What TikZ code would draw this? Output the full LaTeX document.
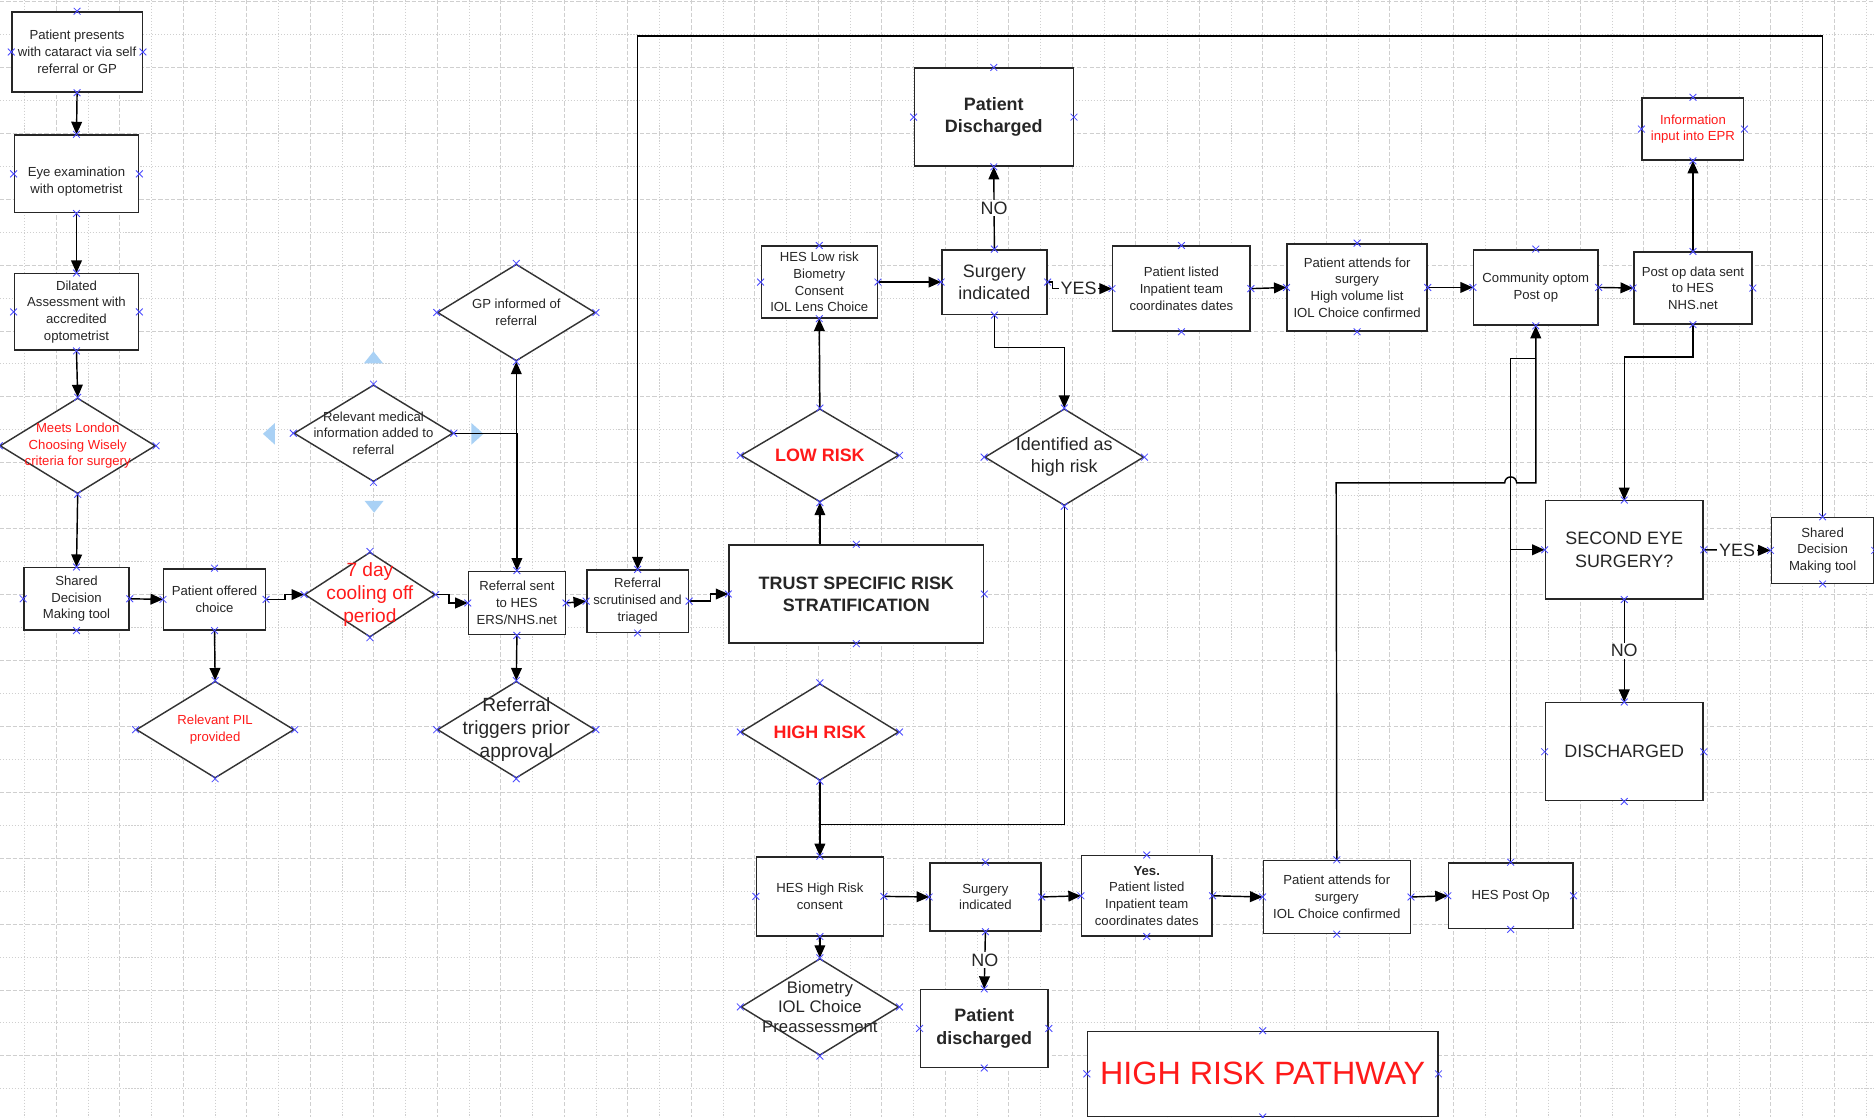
\documentclass[tikz,border=0pt]{standalone}
\usepackage{fontspec}
\setmainfont{Liberation Sans}
\usetikzlibrary{shapes.geometric,shapes.misc,arrows.meta,calc}
\definecolor{gridc}{HTML}{CFCFCF}
\definecolor{txt}{HTML}{262626}
\definecolor{redt}{HTML}{FF1A1A}
\definecolor{xblue}{HTML}{4A4AFF}
\definecolor{handle}{HTML}{A9D1F5}
\newcommand\fsA{\fontsize{11pt}{14pt}\selectfont}
\newcommand\fsB{\fontsize{15pt}{18.5pt}\selectfont}
\newcommand\fsC{\fontsize{16pt}{19pt}\selectfont}
\newcommand\fsD{\fontsize{14pt}{16pt}\selectfont}
\tikzset{
  majgrid/.style={draw=gridc, line width=0.8pt, dash pattern=on 3.5pt off 1.8pt},
  mingrid/.style={draw=gridc, line width=0.8pt, dash pattern=on 0.9pt off 1.6pt},
  box/.style={draw=black!85, line width=1.2pt, fill=white, rectangle, align=center, inner sep=1pt, text=txt, font=\fsA},
  dia/.style={draw=black!80, line width=1.2pt, fill=white, diamond, inner sep=0pt},
  dlab/.style={align=center, text=txt, font=\fsA, inner sep=0pt},
  arr/.style={-{Triangle[length=10.5pt,width=9pt]}, line width=1.2pt, draw=black},
  ln/.style={line width=1.2pt, draw=black},
  lbl/.style={fill=white, text=txt, font=\fsB, inner sep=1.5pt},
  xmark/.style={cross out, draw=xblue, minimum size=5pt, inner sep=0pt, line width=0.7pt}
}
\begin{document}
\begin{tikzpicture}[x=1pt,y=-1pt]
\useasboundingbox (0,0) rectangle (1568,935);
\fill[white] (0,0) rectangle (1568,935);
% grid
\foreach \k in {0,...,58} {
  \pgfmathsetmacro\xx{20.58+26.565*\k}
  \ifodd\k \draw[majgrid] (\xx,0) -- (\xx,935); \else \draw[mingrid] (\xx,0) -- (\xx,935); \fi
}
\foreach \k in {0,...,33} {
  \pgfmathsetmacro\yy{1.25+27.57*\k}
  \ifodd\k \draw[mingrid] (0,\yy) -- (1568,\yy); \else \draw[majgrid] (0,\yy) -- (1568,\yy); \fi
}
% selection handles around the medical-information diamond
\fill[handle] (312.5,294) -- (304.5,304) -- (320.5,304) -- cycle;
\fill[handle] (220,363) -- (230,354) -- (230,372) -- cycle;
\fill[handle] (404.5,363) -- (394.5,354) -- (394.5,372) -- cycle;
\fill[handle] (313,429) -- (305,419) -- (321,419) -- cycle;

% ---------- nodes ----------
\node[box, minimum width=109pt, minimum height=67pt] (n1) at (64.5,43.5) {Patient presents\\with cataract via self\\referral or GP};
\node[box, minimum width=104pt, minimum height=65pt, label={[dlab,yshift=-6.5pt]center:Eye examination\\with optometrist}] (n2) at (64,145.5) {};
\node[box, minimum width=104pt, minimum height=64pt] (n3) at (64,261) {Dilated\\Assessment with\\accredited\\optometrist};
\node[dia, minimum width=130pt, minimum height=80pt, label={[dlab,text=redt]center:Meets London\\Choosing Wisely\\criteria for surgery}] (n4) at (65,373) {};
\node[box, minimum width=88pt, minimum height=52pt] (n5) at (64,501) {Shared\\Decision\\Making tool};
\node[box, minimum width=85pt, minimum height=51pt] (n6) at (179.5,501.5) {Patient offered\\choice};
\node[dia, minimum width=132pt, minimum height=81pt, label={[dlab,text=redt]center:Relevant PIL\\provided}] (n7) at (180,610.5) {};
\node[dia, minimum width=109pt, minimum height=71pt, label={[dlab,text=redt,font=\fsC]center:7 day\\cooling off\\period}] (n8) at (309.5,497.5) {};
\node[dia, minimum width=133pt, minimum height=81pt, label={[dlab]center:Relevant medical\\information added to\\referral}] (n9) at (312.5,362.5) {};
\node[dia, minimum width=132pt, minimum height=81pt, label={[dlab]center:GP informed of\\referral}] (n10) at (432,261.5) {};
\node[box, minimum width=81pt, minimum height=53pt] (n11) at (432.5,504.5) {Referral sent\\to HES\\ERS/NHS.net};
\node[dia, minimum width=132pt, minimum height=81pt, label={[dlab,font=\fsC]center:Referral\\triggers prior\\approval}] (n12) at (432,610.5) {};
\node[box, minimum width=85pt, minimum height=52pt] (n13) at (533.5,503) {Referral\\scrutinised and\\triaged};
\node[box, minimum width=213pt, minimum height=82pt, font=\fsB\bfseries] (n14) at (716.5,497) {TRUST SPECIFIC RISK\\STRATIFICATION};
\node[dia, minimum width=132pt, minimum height=78pt, label={[dlab,text=redt,font=\fsB\bfseries]center:LOW RISK}] (n15) at (686,381) {};
\node[dia, minimum width=132pt, minimum height=81pt, label={[dlab,text=redt,font=\fsB\bfseries]center:HIGH RISK}] (n16) at (686,612.5) {};
\node[box, minimum width=97pt, minimum height=60pt] (n17) at (685.5,236) {HES Low risk\\Biometry\\Consent\\IOL Lens Choice};
\node[box, minimum width=88pt, minimum height=54pt, font=\fsB] (n18) at (832,236) {Surgery\\indicated};
\node[box, minimum width=133pt, minimum height=82pt, font=\fsB\bfseries] (n19) at (831.5,98) {Patient\\Discharged};
\node[dia, minimum width=133pt, minimum height=81pt, label={[dlab,font=\fsB]center:Identified as\\high risk}] (n20) at (890.5,382.5) {};
\node[box, minimum width=115pt, minimum height=71pt] (n21) at (988.5,241.5) {Patient listed\\Inpatient team\\coordinates dates};
\node[box, minimum width=117pt, minimum height=73pt] (n22) at (1135.5,240.5) {Patient attends for\\surgery\\High volume list\\IOL Choice confirmed};
\node[box, minimum width=104pt, minimum height=63pt] (n23) at (1285,240.5) {Community optom\\Post op};
\node[box, minimum width=99pt, minimum height=60pt] (n24) at (1416.5,241) {Post op data sent\\to HES\\NHS.net};
\node[box, minimum width=85pt, minimum height=52pt, text=redt] (n25) at (1416.5,108) {Information\\input into EPR};
\node[box, minimum width=132pt, minimum height=82pt, font=\fsB] (n26) at (1359,460) {SECOND EYE\\SURGERY?};
\node[box, minimum width=86pt, minimum height=55pt] (n27) at (1525,460.5) {Shared\\Decision\\Making tool};
\node[box, minimum width=132pt, minimum height=82pt, font=\fsB] (n28) at (1359,629) {DISCHARGED};
\node[box, minimum width=106pt, minimum height=66pt] (n29) at (686,750) {HES High Risk\\consent};
\node[dia, minimum width=132pt, minimum height=81pt, label={[dlab,font=\fsD]center:Biometry\\IOL Choice\\Preassessment}] (n30) at (686,842.5) {};
\node[box, minimum width=93pt, minimum height=57pt] (n31) at (824.5,750.5) {Surgery\\indicated};
\node[box, minimum width=107pt, minimum height=65pt, font=\fsB\bfseries] (n32) at (823.5,860.5) {Patient\\discharged};
\node[box, minimum width=109pt, minimum height=67pt] (n33) at (959.5,749.5) {\textbf{Yes.}\\Patient listed\\Inpatient team\\coordinates dates};
\node[box, minimum width=123pt, minimum height=61pt] (n34) at (1118.5,750.5) {Patient attends for\\surgery\\IOL Choice confirmed};
\node[box, minimum width=104pt, minimum height=55pt] (n35) at (1264,749.5) {HES Post Op};
\node[box, minimum width=293pt, minimum height=71pt, text=redt, font=\fontsize{27pt}{31pt}\selectfont] (n36) at (1056.5,898.5) {HIGH RISK PATHWAY};

% ---------- junction coordinates ----------
\coordinate (jtop) at (1525,30);
\coordinate (jhigh) at (686,690);
\coordinate (jh1) at (1118,404);
\coordinate (jh2) at (1259,404);
\coordinate (jh3) at (1285,404);
\coordinate (jp1) at (1264,300);
\coordinate (jp2) at (1285,300);
\coordinate (jp3) at (1264,460);

% ---------- connectors ----------
\draw[arr] (n1.south) -- (n2.north);
\draw[arr] (n2.south) -- (n3.north);
\draw[arr] (n3.south) -- (n4.north);
\draw[arr] (n4.south) -- (n5.north);
\draw[arr] (n5.east) -- (n6.west);
\draw[arr] (n6.south) -- (n7.north);
\draw[arr] (n6.east) -- ++(16,0) |- (n8.west);
\draw[arr] (n8.east) -- ++(11,0) |- (n11.west);
\draw[arr] (n11.south) -- (n12.north);
\draw[arr] (n11.east) -- (n13.west);
\draw[arr] (n9.east) -| (n10.south);
\draw[arr] (n9.east) -| (n11.north);
\draw[arr] (n13.east) -- ++(18,0) |- (n14.west);
\draw[arr] (n15.south |- n14.north) -- (n15.south);
\draw[arr] (n15.north) -- (n17.south);
\draw[arr] (n17.east) -- (n18.west);
\draw[arr] (n18.north) -- node[lbl]{NO} (n19.south);
\draw[arr] (n18.east) -- ++(4,0) |- node[lbl,pos=0.72]{YES} (n21.west);
\draw[arr] (n18.south) -- ++(0,27) -| (n20.north);
\draw[ln] (n20.south) |- (jhigh);
\draw[arr] (n16.south) -- (n29.north);
\draw[arr] (n29.south) -- (n30.north);
\draw[arr] (n29.east) -- (n31.west);
\draw[arr] (n31.south) -- node[lbl]{NO} (n32.north);
\draw[arr] (n31.east) -- (n33.west);
\draw[arr] (n33.east) -- (n34.west);
\draw[arr] (n34.east) -- (n35.west);
\draw[arr] (n34.north) -- (jh1) -- (jh2) arc[start angle=180, end angle=360, radius=5] -- (jh3) -- (n23.south);
\draw[ln] (n35.north) -- (jp1) -- (jp2);
\draw[arr] (jp3) -- (n26.west);
\draw[arr] (n21.east) -- (n22.west);
\draw[arr] (n22.east) -- (n23.west);
\draw[arr] (n23.east) -- (n24.west);
\draw[arr] (n24.north) -- (n25.south);
\draw[arr] (n24.south) -- ++(0,27) -| (n26.north);
\draw[arr] (n26.east) -- node[lbl]{YES} (n27.west);
\draw[arr] (n26.south) -- node[lbl]{NO} (n28.north);
\draw[arr] (n27.north) -- (jtop) -| (n13.north);

% ---------- connection-point markers ----------
\foreach \n in {n1,n2,n3,n4,n5,n6,n7,n8,n9,n10,n11,n12,n13,n14,n15,n16,n17,n18,n19,n20,n21,n22,n23,n24,n25,n26,n27,n28,n29,n30,n31,n32,n33,n34,n35,n36} {
  \foreach \a in {north,south,east,west} {
    \node[xmark] (\n-\a) at (\n.\a) {};
  }
}
\end{tikzpicture}
\end{document}
